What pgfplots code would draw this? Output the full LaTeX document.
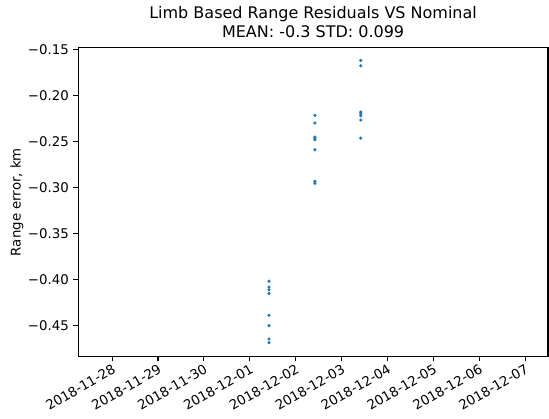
\documentclass[border=0pt]{standalone}
\usepackage{fontspec}
\setmainfont{DejaVu Sans}
\usepackage{pgfplots}
\pgfplotsset{compat=1.18}
\definecolor{mplblue}{HTML}{1F77B4}
\begin{document}
\begin{tikzpicture}
\useasboundingbox (0,0) rectangle (411.75pt,313.5pt);
\begin{axis}[
  scale only axis,
  width=352.4pt, height=231.9pt,
  at={(58.6pt,46pt)}, anchor=south west,
  xmin=-0.74, xmax=9.5,
  ymin=-0.484, ymax=-0.148,
  axis line style={line width=0.8pt},
  tick align=outside, tick pos=left,
  major tick length=3.5pt,
  every tick/.style={black, line width=0.8pt},
  xtick={0,1,2,3,4,5,6,7,8,9},
  xticklabels={2018-11-28,2018-11-29,2018-11-30,2018-12-01,2018-12-02,2018-12-03,2018-12-04,2018-12-05,2018-12-06,2018-12-07},
  x tick label style={rotate=30, anchor=north east, font=\fontsize{10}{12}\selectfont, inner sep=1pt},
  ytick={-0.45,-0.40,-0.35,-0.30,-0.25,-0.20,-0.15},
  yticklabels={−0.45,−0.40,−0.35,−0.30,−0.25,−0.20,−0.15},
  y tick label style={font=\fontsize{10}{12}\selectfont},
  ylabel={Range error, km},
  ylabel shift=-3.5pt,
  ylabel style={font=\fontsize{10}{12}\selectfont},
  title={Limb Based Range Residuals VS Nominal\\MEAN: -0.3 STD: 0.099},
  title style={font=\fontsize{12}{14.25}\selectfont, align=center, yshift=-2pt},
]
\addplot[only marks, mark=*, mark size=1pt, color=mplblue, mark options={draw=mplblue, fill=mplblue}] coordinates {
(3.42,-0.402) (3.42,-0.4084) (3.42,-0.4114) (3.42,-0.4153) (3.42,-0.4390) (3.42,-0.4502) (3.42,-0.4648) (3.42,-0.4688)
(4.42,-0.2217) (4.42,-0.2301) (4.42,-0.2454) (4.42,-0.2465) (4.42,-0.2483) (4.42,-0.2592) (4.42,-0.2934) (4.42,-0.2956)
(5.42,-0.1620) (5.42,-0.1679) (5.42,-0.2181) (5.42,-0.2199) (5.42,-0.2221) (5.42,-0.2269) (5.42,-0.2465)
};
\end{axis}
\end{tikzpicture}
\end{document}
